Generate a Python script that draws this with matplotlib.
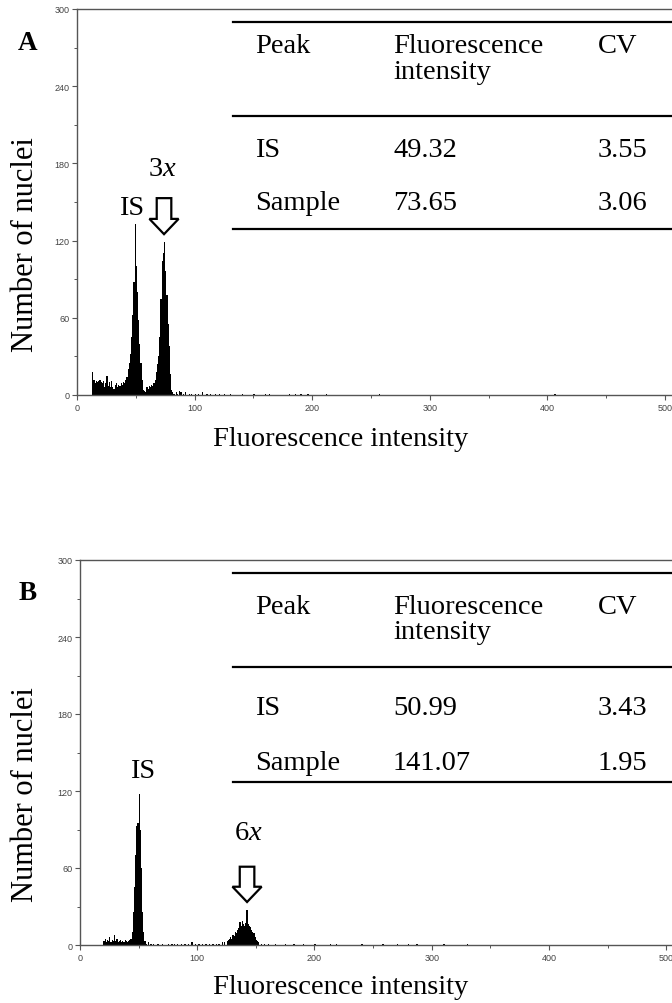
import numpy as np
import matplotlib
matplotlib.use("Agg")
import matplotlib.pyplot as plt
from matplotlib.lines import Line2D
from matplotlib.patches import FancyArrowPatch

plt.rcParams['mathtext.fontset'] = 'custom'
plt.rcParams['mathtext.rm'] = 'Liberation Serif'
plt.rcParams['mathtext.it'] = 'Liberation Serif:italic'

# ---------------- data ----------------
# Panel A histogram: channel (fluorescence intensity) -> number of nuclei
a_channels = [13, 14, 15, 16, 17, 18, 19, 20, 21, 22, 23, 24, 25, 26, 27, 28, 29, 30,
              31, 32, 33, 34, 35, 36, 37, 38, 39, 40, 41, 42,
              43, 44, 45, 46, 47, 48, 49, 50, 51, 52, 53, 54, 55,
              56, 57, 58, 59, 60, 61, 62, 63, 64, 65, 66,
              67, 68, 69, 70, 71, 72, 73, 74, 75, 76, 77, 78, 79, 80,
              81, 82, 84, 85, 87, 88, 90, 92, 95, 97, 100, 103, 106, 110, 113,
              117, 121, 125, 130, 140, 150, 160, 163, 180, 185, 190, 196, 212, 257, 406]
a_counts = [18, 12, 9, 11, 10, 11, 12, 10, 9, 11, 6, 9, 15, 7, 10, 6, 11, 6,
            5, 8, 9, 6, 8, 7, 9, 8, 10, 9, 12, 14,
            20, 25, 32, 45, 62, 88, 133, 100, 80, 58, 40, 25, 12,
            4, 3, 2, 6, 5, 7, 6, 8, 7, 9, 12,
            18, 24, 30, 45, 75, 104, 110, 119, 96, 78, 55, 38, 16, 4,
            2, 1, 2, 1, 3, 2, 1, 2, 1, 1, 1, 1, 2, 1, 1,
            1, 1, 1, 1, 1, 1, 1, 1, 1, 1, 1, 1, 1, 1, 1]

# Panel B histogram
b_channels = [20, 21, 22, 23, 24, 25, 26, 27, 28, 29, 30, 31, 32, 33, 34, 35, 36, 37,
              38, 39, 40, 41, 42, 43,
              44, 45, 46, 47, 48, 49, 50, 51, 52, 53, 54, 55, 56, 58, 60, 62,
              66, 70, 75, 78, 80, 83, 86, 89, 92, 95, 98, 101, 104, 107, 110, 113,
              116, 118, 121, 123,
              125, 126, 127, 128, 129, 130, 131, 132, 133, 134, 135, 136, 137, 138,
              139, 140, 141, 142, 143, 144, 145, 146, 147, 148, 149, 150, 151, 152,
              154, 157, 160, 166, 175, 182, 190, 200, 213, 218, 240, 258, 270, 280,
              287, 310, 330]
b_counts = [3, 5, 2, 4, 3, 6, 2, 4, 3, 8, 3, 5, 2, 3, 4, 2, 3, 2,
            4, 3, 2, 3, 4, 5,
            10, 26, 45, 70, 93, 95, 118, 90, 60, 26, 10, 3, 1, 2, 1, 1,
            1, 1, 1, 1, 1, 1, 1, 1, 1, 2, 1, 1, 1, 1, 1, 1,
            1, 1, 2, 2,
            3, 4, 5, 6, 5, 8, 7, 10, 9, 12, 13, 18, 15, 19,
            16, 15, 17, 27, 16, 15, 14, 12, 10, 9, 6, 4, 3, 2,
            1, 1, 1, 1, 1, 1, 1, 1, 1, 1, 1, 1, 1, 1,
            1, 1, 1]

table_header = ["Peak", "Fluorescence\nintensity", "CV"]
a_peaks = ["IS", "Sample"]
a_intensity = ["49.32", "73.65"]
a_cv = ["3.55", "3.06"]
b_peaks = ["IS", "Sample"]
b_intensity = ["50.99", "141.07"]
b_cv = ["3.43", "1.95"]

y_ticks = [0, 60, 120, 180, 240, 300]
x_ticks = [0, 100, 200, 300, 400, 500]

# ---------------- figure ----------------
W, H = 672, 1004
fig = plt.figure(figsize=(W / 100, H / 100), dpi=100)

def fx(x):
    return x / W

def fy(y):
    return 1 - y / H

SERIF = 'Liberation Serif'
SANS = 'Liberation Sans'
FS = 20.5
GRAY = '#555555'


def make_axes(left_px, top_px, bottom_px, xmax):
    ax = fig.add_axes([fx(left_px), fy(bottom_px), 1 - fx(left_px), (bottom_px - top_px) / H])
    ax.set_xlim(0, xmax)
    ax.set_ylim(0, 300)
    ax.set_yticks(y_ticks)
    ax.set_yticks([30, 90, 150, 210, 270], minor=True)
    ax.set_xticks(x_ticks)
    ax.set_xticks([50, 150, 250, 350, 450], minor=True)
    ax.tick_params(axis='both', which='major', length=3.5, width=0.8, color=GRAY,
                   labelsize=6.5, labelcolor='#444444', pad=2)
    ax.tick_params(axis='both', which='minor', length=2, width=0.7, color=GRAY)
    for lab in ax.get_xticklabels() + ax.get_yticklabels():
        lab.set_fontfamily(SANS)
    ax.spines['right'].set_visible(False)
    for s in ['left', 'top', 'bottom']:
        ax.spines[s].set_color(GRAY)
        ax.spines[s].set_linewidth(1.0)
    return ax


def draw_hist(ax, channels, counts, nbins=510):
    full = np.zeros(nbins)
    for c, n in zip(channels, counts):
        full[c] = n
    edges = np.arange(nbins + 1)
    ax.stairs(full, edges, fill=True, color='black', linewidth=0)


def draw_table(top, mid, bot, base_head, base_int, base_r1, base_r2,
               peaks, intens, cvs):
    x0, x1 = 233, 680
    for yy in (top, mid, bot):
        fig.add_artist(Line2D([fx(x0), fx(x1)], [fy(yy), fy(yy)], color='black', lw=1.6))
    cols = [255, 393, 598]
    head = table_header
    fig.text(fx(cols[0]), fy(base_head), head[0], family=SERIF, size=FS, va='baseline')
    h1, h2 = head[1].split("\n")
    fig.text(fx(cols[1]), fy(base_head), h1, family=SERIF, size=FS, va='baseline')
    fig.text(fx(cols[1]), fy(base_int), h2, family=SERIF, size=FS, va='baseline')
    fig.text(fx(cols[2]), fy(base_head), head[2], family=SERIF, size=FS, va='baseline')
    for base, p, v, c in zip([base_r1, base_r2], peaks, intens, cvs):
        fig.text(fx(cols[0]), fy(base), p, family=SERIF, size=FS, va='baseline')
        fig.text(fx(cols[1]), fy(base), v, family=SERIF, size=FS, va='baseline')
        fig.text(fx(cols[2]), fy(base), c, family=SERIF, size=FS, va='baseline')


def hollow_arrow(ax, x, y_top, y_tip):
    arr = FancyArrowPatch((x, y_top), (x, y_tip),
                          arrowstyle="simple,head_length=11,head_width=21,tail_width=10.5",
                          mutation_scale=1, shrinkA=0, shrinkB=0,
                          facecolor='white', edgecolor='black', linewidth=1.6,
                          joinstyle='miter')
    ax.add_patch(arr)

# ---- Panel A ----
axA = make_axes(77, 10, 396, 506)
draw_hist(axA, a_channels, a_counts)
hollow_arrow(axA, 74, 153, 125)
axA.text(46, 146, "IS", family=SERIF, size=FS, ha='center', va='center')
axA.text(73, 176, r"3$\mathit{x}$", family=SERIF, size=FS, ha='center', va='center')
fig.text(fx(28), fy(44), "A", family=SERIF, size=FS - 1, weight='bold', ha='center', va='center')
fig.text(fx(26), fy(245), "Number of nuclei", family=SERIF, size=22, rotation=90,
         ha='center', va='center')
fig.text(fx(341), fy(440), "Fluorescence intensity", family=SERIF, size=FS,
         ha='center', va='center')
draw_table(23, 117, 230, 53, 79, 157, 210, a_peaks, a_intensity, a_cv)

# ---- Panel B ----
axB = make_axes(80, 561, 946, 505)
draw_hist(axB, b_channels, b_counts)
hollow_arrow(axB, 142.5, 61, 33.5)
axB.text(53, 136, "IS", family=SERIF, size=FS, ha='center', va='center')
axB.text(144, 88, r"6$\mathit{x}$", family=SERIF, size=FS, ha='center', va='center')
fig.text(fx(28), fy(594), "B", family=SERIF, size=FS - 1, weight='bold', ha='center', va='center')
fig.text(fx(26), fy(795), "Number of nuclei", family=SERIF, size=22, rotation=90,
         ha='center', va='center')
fig.text(fx(341), fy(988), "Fluorescence intensity", family=SERIF, size=FS,
         ha='center', va='center')
draw_table(574, 668, 783, 614, 639, 715, 770, b_peaks, b_intensity, b_cv)

fig.savefig("out.png", dpi=100, facecolor='white')
